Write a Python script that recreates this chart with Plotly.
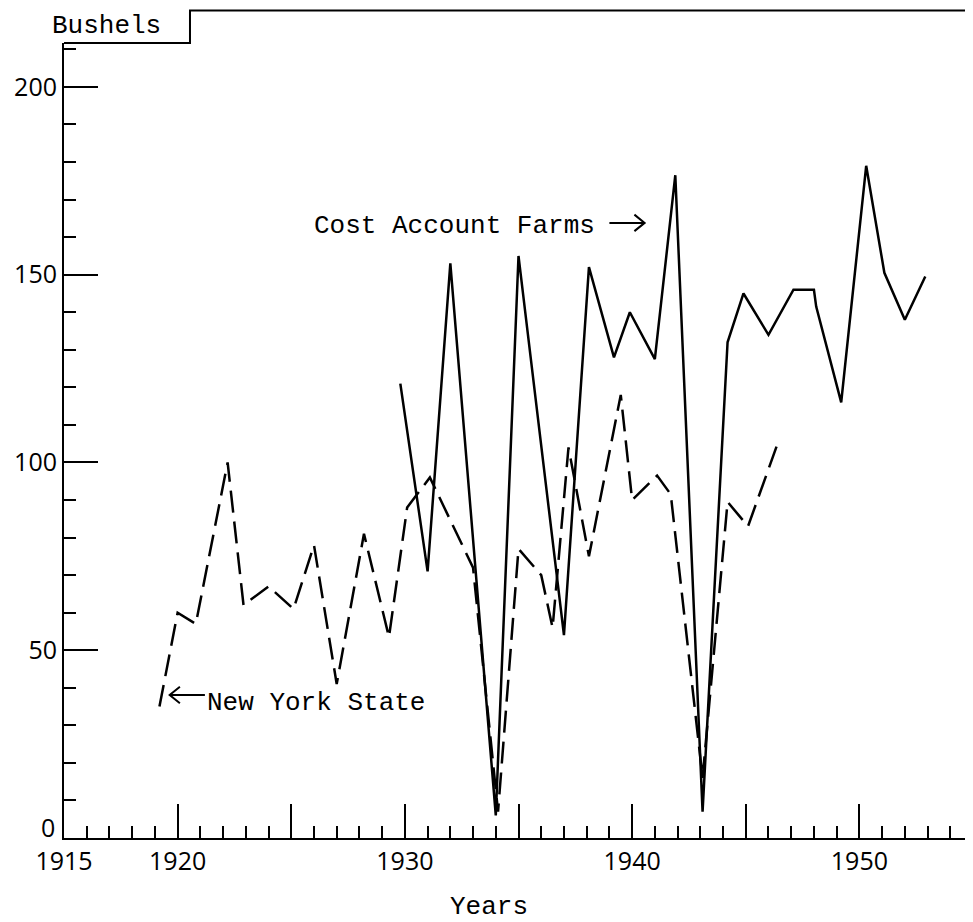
import plotly.graph_objects as go

# Cost Account Farms (solid line)
cost_years = [1929.8, 1931.0, 1932.0, 1934.0, 1935.0, 1937.0, 1938.1, 1939.2, 1939.9,
              1941.0, 1941.9, 1943.1, 1944.2, 1944.9, 1946.0, 1947.1, 1948.0, 1948.1,
              1949.2, 1950.3, 1951.1, 1952.0, 1952.9]
cost_bushels = [121, 71, 153, 6, 155, 54, 152, 128, 140,
                127.5, 176.5, 7, 132, 145, 134, 146, 146, 141.5,
                116, 179, 150.5, 138, 149.5]

# New York State (dashed line)
ny_years = [1919.2, 1920.0, 1920.8, 1922.2, 1922.9, 1924.0, 1925.1, 1926.0, 1927.0,
            1928.2, 1929.3, 1930.1, 1931.1, 1933.0, 1934.1, 1935.0, 1936.0, 1936.5,
            1937.2, 1938.1, 1939.5, 1940.0, 1941.1, 1941.7, 1943.1, 1944.2, 1945.1,
            1946.4]
ny_bushels = [35, 60, 57, 100, 62, 67, 61, 78, 41,
              81, 53.5, 88, 96, 72, 7, 77, 70, 56,
              104, 75, 118, 90, 96.5, 91.5, 16, 89.5, 83,
              105]

x_ticks = [1915, 1920, 1925, 1930, 1935, 1940, 1945, 1950]
x_labels = ['1915', '1920', '', '1930', '', '1940', '', '1950']
y_ticks = [0, 50, 100, 150, 200]
y_labels = ['', '50', '100', '150', '200']   # the "0" sits higher, drawn separately

mono = 'Liberation Mono, Courier New, monospace'
digits = dict(family='Open Sans, Liberation Sans, sans-serif', size=25, color='black')

fig = go.Figure()
fig.add_trace(go.Scatter(x=cost_years, y=cost_bushels, mode='lines',
                         line=dict(color='black', width=2.5), name='Cost Account Farms'))
fig.add_trace(go.Scatter(x=ny_years, y=ny_bushels, mode='lines',
                         line=dict(color='black', width=2.5, dash='22px,9px'),
                         name='New York State'))

axis_common = dict(showgrid=False, zeroline=False, showline=True, linecolor='black',
                   linewidth=2, ticks='inside', ticklen=34, tickwidth=2, tickcolor='black',
                   tickfont=digits)

fig.update_xaxes(range=[1915, 1955], tickmode='array', tickvals=x_ticks, ticktext=x_labels,
                 minor=dict(tickmode='linear', tick0=1915, dtick=1, ticks='inside',
                            ticklen=12, tickwidth=2, tickcolor='black'),
                 **axis_common)
fig.update_yaxes(range=[0, 211.7], tickmode='array', tickvals=y_ticks, ticktext=y_labels,
                 minor=dict(tickmode='linear', tick0=0, dtick=10, ticks='inside',
                            ticklen=12, tickwidth=2, tickcolor='black'),
                 **axis_common)

fig.add_annotation(x=0, y=0, xref='paper', yref='y', text='0', showarrow=False,
                   xanchor='right', yanchor='middle', xshift=-7, yshift=11, font=digits)

# labels and arrows, typewriter style
fig.add_annotation(x=1925.9, y=163.0, xref='x', yref='y', text='Cost Account Farms',
                   showarrow=False, xanchor='left', yanchor='middle',
                   font=dict(family=mono, size=26, color='black'))
fig.add_annotation(x=1921.2, y=36.0, xref='x', yref='y', text='New York State',
                   showarrow=False, xanchor='left', yanchor='middle',
                   font=dict(family=mono, size=26, color='black'))
fig.add_annotation(x=0.047, y=1.0, xref='paper', yref='paper', text='Bushels',
                   showarrow=False, xanchor='center', yanchor='bottom',
                   font=dict(family=mono, size=26, color='black'))
fig.add_annotation(x=0.468, y=-0.087, xref='paper', yref='paper', text='Years',
                   showarrow=False, xanchor='center', yanchor='middle',
                   font=dict(family=mono, size=26, color='black'))

arrow = dict(color='black', width=2)
fig.add_shape(type='path', xref='x', yref='y', line=arrow,
              path='M 1939.0,163.8 L 1940.55,163.8 M 1940.1,166.0 L 1940.55,163.8 L 1940.1,161.6')
fig.add_shape(type='path', xref='x', yref='y', line=arrow,
              path='M 1921.2,38.1 L 1919.65,38.1 M 1920.1,40.3 L 1919.65,38.1 L 1920.1,35.9')

# stepped frame at the top of the sheet
fig.add_shape(type='path', xref='paper', yref='paper', line=arrow,
              path='M 0,1 L 0.1386,1 L 0.1386,1.041 L 1,1.041')

# the page body keeps its 8px margin, so the figure is 8px smaller each way
fig.update_layout(width=965, height=914, margin=dict(l=56, r=0, t=35, b=84),
                  plot_bgcolor='white', paper_bgcolor='white', showlegend=False)

fig.write_html('out.html')
